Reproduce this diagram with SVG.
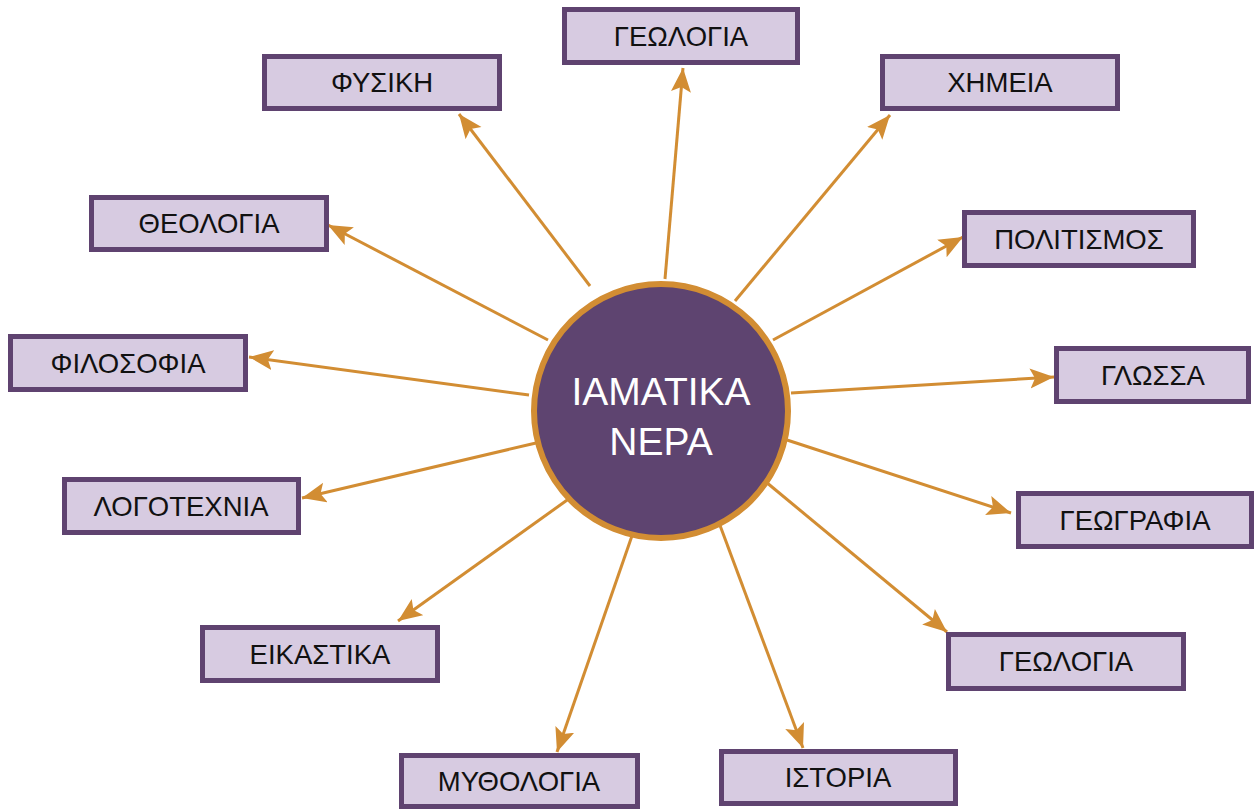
<svg xmlns="http://www.w3.org/2000/svg" width="1256" height="810" viewBox="0 0 1256 810">
<style>
.box{fill:#d7cbe1;stroke:#5f4370;stroke-width:5}
.lbl{font-family:"Liberation Sans",Arial,sans-serif;font-size:27.5px;fill:#111;text-anchor:middle;dominant-baseline:central}
.con{stroke:#d28d33;stroke-width:3;fill:none;marker-end:url(#ah)}
.ctr{font-family:"Liberation Sans",Arial,sans-serif;font-size:39px;fill:#fff;text-anchor:middle}
</style>
<defs>
<marker id="ah" markerUnits="userSpaceOnUse" markerWidth="26" markerHeight="22" refX="24" refY="10" orient="auto" viewBox="0 0 26 22">
<path d="M0,0 L24,10 L0,20 L5,10 Z" fill="#d28d33"/>
</marker>
</defs>
<rect width="1256" height="810" fill="#fff"/>
<g id="connectors">
<line class="con" x1="665" y1="279" x2="683" y2="68"/>
<line class="con" x1="590" y1="286" x2="459" y2="114"/>
<line class="con" x1="735" y1="301" x2="890" y2="115"/>
<line class="con" x1="548" y1="340" x2="328" y2="225"/>
<line class="con" x1="773" y1="340" x2="963" y2="237"/>
<line class="con" x1="529" y1="395" x2="249" y2="357"/>
<line class="con" x1="791" y1="393" x2="1054" y2="377"/>
<line class="con" x1="536" y1="443" x2="302" y2="498"/>
<line class="con" x1="787" y1="440" x2="1011" y2="513"/>
<line class="con" x1="570" y1="498" x2="398" y2="621"/>
<line class="con" x1="766" y1="482" x2="947" y2="632"/>
<line class="con" x1="634" y1="530" x2="557" y2="752"/>
<line class="con" x1="718" y1="520" x2="803" y2="748"/>
</g>
<g id="center">
<circle cx="661" cy="411" r="127" fill="#5e4470" stroke="#d28d33" stroke-width="6"/>
<text class="ctr" x="661" y="405">ΙΑΜΑΤΙΚΑ</text>
<text class="ctr" x="661" y="455">ΝΕΡΑ</text>
</g>
<g id="n1"><rect class="box" x="564.5" y="9.5" width="233" height="53"/><text class="lbl" x="681" y="36">ΓΕΩΛΟΓΙΑ</text></g>
<g id="n2"><rect class="box" x="264.5" y="56.5" width="235" height="52"/><text class="lbl" x="382" y="82.5">ΦΥΣΙΚΗ</text></g>
<g id="n3"><rect class="box" x="882.5" y="56.5" width="235" height="52"/><text class="lbl" x="1000" y="82.5">ΧΗΜΕΙΑ</text></g>
<g id="n4"><rect class="box" x="91.5" y="197.5" width="235" height="52"/><text class="lbl" x="209" y="223.5">ΘΕΟΛΟΓΙΑ</text></g>
<g id="n5"><rect class="box" x="964.5" y="212.5" width="229" height="53"/><text class="lbl" x="1079" y="239">ΠΟΛΙΤΙΣΜΟΣ</text></g>
<g id="n6"><rect class="box" x="10.5" y="336.5" width="235" height="53"/><text class="lbl" x="128" y="363">ΦΙΛΟΣΟΦΙΑ</text></g>
<g id="n7"><rect class="box" x="1056.5" y="348.5" width="192" height="53"/><text class="lbl" x="1153" y="375">ΓΛΩΣΣΑ</text></g>
<g id="n8"><rect class="box" x="64.5" y="479.5" width="234" height="53"/><text class="lbl" x="181" y="506">ΛΟΓΟΤΕΧΝΙΑ</text></g>
<g id="n9"><rect class="box" x="1018.5" y="493.5" width="233" height="53"/><text class="lbl" x="1135" y="520">ΓΕΩΓΡΑΦΙΑ</text></g>
<g id="n10"><rect class="box" x="202.5" y="627.5" width="235" height="53"/><text class="lbl" x="320" y="654">ΕΙΚΑΣΤΙΚΑ</text></g>
<g id="n11"><rect class="box" x="948.5" y="634.5" width="235" height="54"/><text class="lbl" x="1066" y="661.5">ΓΕΩΛΟΓΙΑ</text></g>
<g id="n12"><rect class="box" x="401.5" y="755.5" width="236" height="51"/><text class="lbl" x="519" y="781">ΜΥΘΟΛΟΓΙΑ</text></g>
<g id="n13"><rect class="box" x="721.5" y="751.5" width="234" height="52"/><text class="lbl" x="838" y="777.5">ΙΣΤΟΡΙΑ</text></g>
</svg>
